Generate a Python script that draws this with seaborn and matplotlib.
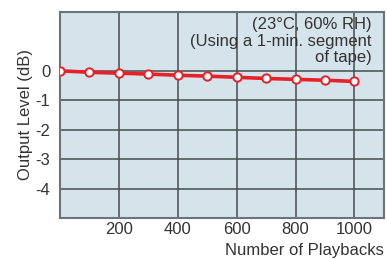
import matplotlib
matplotlib.use("Agg")
import matplotlib.pyplot as plt
import seaborn as sns
import pandas as pd

playbacks = [0, 100, 200, 300, 400, 500, 600, 700, 800, 900, 1000]
output_db = [0.0, -0.05, -0.08, -0.11, -0.15, -0.18, -0.22, -0.26, -0.29, -0.32, -0.36]
x_ticks = [200, 400, 600, 800, 1000]
y_ticks = [0, -1, -2, -3, -4]
note = "(23°C, 60% RH)\n(Using a 1-min. segment\nof tape)"

sns.set_theme(style="white")
plt.rcParams['font.family'] = ['Liberation Sans', 'DejaVu Sans']

df = pd.DataFrame({"Number of Playbacks": playbacks, "Output Level (dB)": output_db})

fig = plt.figure(figsize=(3.87, 2.59), dpi=100)
ax = fig.add_axes([0.155, 0.158, 0.837, 0.796])
ax.set_facecolor("#d5e3ea")

sns.lineplot(data=df, x="Number of Playbacks", y="Output Level (dB)", ax=ax,
             color="#e8202a", linewidth=2.6, marker="o", markersize=6,
             markerfacecolor="white", markeredgecolor="#e8202a", markeredgewidth=1.4,
             zorder=5)

ax.set_xlim(0, 1100)
ax.set_ylim(-5, 2)
ax.set_xticks(x_ticks)
ax.set_yticks(y_ticks)
ax.set_xticklabels([str(t) for t in x_ticks])
ax.set_yticklabels([str(t) for t in y_ticks])
ax.grid(True, color="#454c50", linewidth=1.1)
ax.set_axisbelow(True)
for s in ax.spines.values():
    s.set_color("#6b7478")
    s.set_linewidth(1.5)
ax.tick_params(length=0, labelsize=12, colors="#333333")
ax.tick_params(axis="x", pad=3)
ax.tick_params(axis="y", pad=7)
ax.set_xlabel("Number of Playbacks", fontsize=12, color="#333333", loc="right", labelpad=4)
ax.set_ylabel("Output Level (dB)", fontsize=12, color="#333333", labelpad=2)

ax.text(0.962, 0.975, note, transform=ax.transAxes, ha="right", va="top",
        fontsize=12, color="#333333", linespacing=1.13, zorder=6)

fig.savefig("out.png", dpi=100)
